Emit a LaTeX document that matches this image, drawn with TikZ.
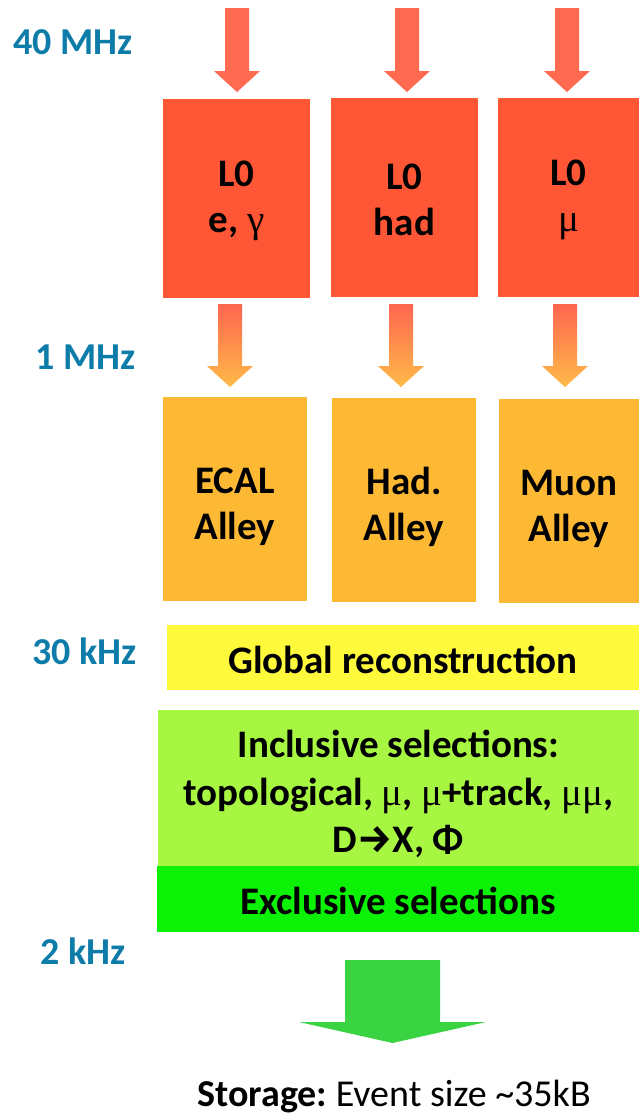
\documentclass[tikz,border=0pt]{standalone}
\usepackage{fontspec}
\setmainfont{Carlito}
\newfontfamily\arrowfont{Fira Sans}
\newfontfamily\greekfont{Liberation Serif}
\usetikzlibrary{positioning}
\frenchspacing
\definecolor{ratecol}{RGB}{14,124,168}
\definecolor{lzero}{RGB}{255,86,53}
\definecolor{inarrow}{RGB}{255,106,80}
\definecolor{gradtop}{RGB}{255,102,80}
\definecolor{gradbot}{RGB}{255,186,72}
\definecolor{alleycol}{RGB}{253,185,51}
\definecolor{globcol}{RGB}{255,250,60}
\definecolor{inclcol}{RGB}{167,247,66}
\definecolor{exclcol}{RGB}{12,242,6}
\definecolor{storecol}{RGB}{58,212,66}
\newcommand{\gk}[1]{{\greekfont\mdseries #1}}
\newcommand{\lift}[1]{\rule{0pt}{#1}}
\tikzstyle{rate} = [text=ratecol, inner sep=0pt, anchor=west, font=\fontsize{19}{23}\selectfont\bfseries]
\tikzstyle{brick} = [rectangle, inner sep=0pt, text centered, align=center, font=\fontsize{19.5}{23}\selectfont\bfseries]
\tikzstyle{trig} = [brick, fill=lzero, minimum height=99.5pt]
\tikzstyle{alley} = [brick, fill=alleycol, minimum height=102pt]

\begin{document}
\begin{tikzpicture}[x=0.5pt, y=-0.5pt]
        \useasboundingbox (0,0) rectangle (639,1115);
        % rates
        \node (r40) [rate] at (13,42) {40 MHz};
        \node (r1) [rate] at (35,357) {1 MHz};
        \node (r30) [rate] at (32,651) {30 kHz};
        \node (r2) [rate] at (40,951) {2 kHz};
        % level 0
        \node (l0e) [trig, minimum width=73.5pt] at (236.5,198.5) {\lift{15pt}L0\\e, \gk{γ}};
        \node (l0h) [trig, minimum width=73.5pt] at (404.5,197.5) {\lift{15pt}L0\\had};
        \node (l0m) [trig, minimum width=70.5pt] at (568.5,197.5) {\lift{15pt}L0\\\gk{μ}};
        % HLT1 alleys
        \node (ecal) [alley, minimum width=72pt] at (235,499) {\lift{21pt}ECAL\\Alley};
        \node (hada) [alley, minimum width=72pt] at (404,500) {\lift{21pt}Had.\\Alley};
        \node (muon) [alley, minimum width=70pt] at (569,501) {\lift{21pt}Muon\\Alley};
        % HLT2
        \node (glob) [brick, fill=globcol, minimum width=236pt, minimum height=32.5pt] at (403,657.5) {\lift{16pt}Global reconstruction};
        \node (incl) [brick, fill=inclcol, minimum width=240.5pt, minimum height=78pt, font=\fontsize{19.5}{23.75}\selectfont\bfseries] at (398.5,788) {\lift{20pt}Inclusive selections:\\topological, \gk{μ}, \gk{μ}+track, \gk{μμ},\\D{\arrowfont\bfseries →}X, Φ};
        \node (excl) [brick, fill=exclcol, minimum width=241pt, minimum height=33pt] at (398,899) {\lift{16pt}Exclusive selections};
        \node (store) [inner sep=0pt, font=\fontsize{19}{23}\selectfont] at (394,1097) {\textbf{Storage:} Event size \textasciitilde35kB};
        % arrows
        \coordinate (in-e) at (237,8);
        \coordinate (in-h) at (407,8);
        \coordinate (in-m) at (567,8);
        \coordinate (out-e) at (230,304);
        \coordinate (out-h) at (401,304);
        \coordinate (out-m) at (565,304);
        \coordinate (out-s) at (392.5,960);
        \fill[inarrow] (in-e) ++(-12,0) -- ++(24,0) -- ++(0,63) -- ++(11,0) -- ++(-23,21) -- ++(-23,-21) -- ++(11,0) -- cycle;
        \fill[inarrow] (in-h) ++(-12,0) -- ++(24,0) -- ++(0,63) -- ++(11,0) -- ++(-23,21) -- ++(-23,-21) -- ++(11,0) -- cycle;
        \fill[inarrow] (in-m) ++(-12,0) -- ++(24,0) -- ++(0,63) -- ++(11,0) -- ++(-23,21) -- ++(-23,-21) -- ++(11,0) -- cycle;
        \shade[top color=gradtop, bottom color=gradbot] (out-e) ++(-12,0) -- ++(24,0) -- ++(0,62) -- ++(11,0) -- ++(-23,21) -- ++(-23,-21) -- ++(11,0) -- cycle;
        \shade[top color=gradtop, bottom color=gradbot] (out-h) ++(-12,0) -- ++(24,0) -- ++(0,62) -- ++(11,0) -- ++(-23,21) -- ++(-23,-21) -- ++(11,0) -- cycle;
        \shade[top color=gradtop, bottom color=gradbot] (out-m) ++(-12,0) -- ++(24,0) -- ++(0,62) -- ++(11,0) -- ++(-23,21) -- ++(-23,-21) -- ++(11,0) -- cycle;
        \fill[storecol] (out-s) ++(-47.5,0) -- ++(95,0) -- ++(0,62) -- ++(46,0) -- ++(-93.5,21) -- ++(-93.5,-21) -- ++(46,0) -- cycle;
\end{tikzpicture}
\end{document}
